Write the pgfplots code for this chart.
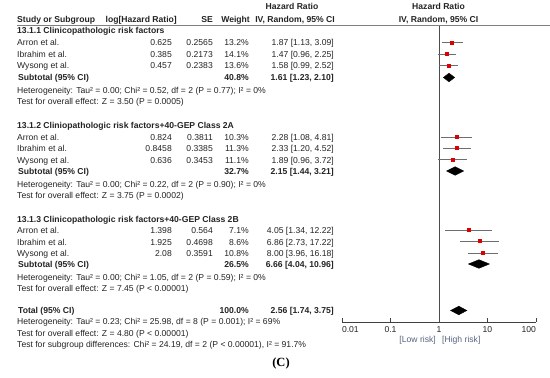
\documentclass[border=0pt]{standalone}
\usepackage{pgfplots}
\pgfplotsset{compat=1.18}
\usepackage{fontspec}
\setmainfont{Liberation Sans}
\newfontfamily\serifC{Liberation Serif}
\definecolor{txt}{RGB}{35,35,35}
\definecolor{cigray}{RGB}{110,110,110}
\definecolor{riskc}{RGB}{85,100,125}
\definecolor{mk}{RGB}{220,0,0}
\begin{document}
\fontsize{8.6}{10}\selectfont
\begin{tikzpicture}
\path[use as bounding box] (0,0) rectangle (550pt,378pt);
\begin{axis}[at={(342pt,56pt)}, anchor=south west, scale only axis,
  width=194pt, height=297pt,
  xmode=log, xmin=0.01, xmax=100, ymin=-322, ymax=-25,
  axis y line=none, axis x line=bottom,
  x axis line style={-, draw=black!75},
  xtick={0.01,0.1,1,10,100},
  xticklabels={\makebox[0pt][l]{0.01},0.1,1,10,\makebox[0pt][r]{100}},
  xminorticks=false, tick align=inside, major tick length=4pt,
  tick style={black!75, line width=0.5pt},
  xticklabel style={text=txt, yshift=-1.5pt},
  clip=false]
% line of no effect
\addplot[black!70, line width=0.6pt] coordinates {(1,-25) (1,-322)};
% confidence intervals
\addplot[cigray, line width=0.8pt] coordinates {(1.13,-42.5) (3.09,-42.5)};
\addplot[cigray, line width=0.8pt] coordinates {(0.96,-54) (2.25,-54)};
\addplot[cigray, line width=0.8pt] coordinates {(0.99,-65.5) (2.52,-65.5)};
\addplot[cigray, line width=0.8pt] coordinates {(1.08,-137) (4.81,-137)};
\addplot[cigray, line width=0.8pt] coordinates {(1.20,-148) (4.52,-148)};
\addplot[cigray, line width=0.8pt] coordinates {(0.96,-159.5) (3.72,-159.5)};
\addplot[cigray, line width=0.8pt] coordinates {(1.34,-230) (12.22,-230)};
\addplot[cigray, line width=0.8pt] coordinates {(2.73,-241) (17.22,-241)};
\addplot[cigray, line width=0.8pt] coordinates {(3.96,-253) (16.18,-253)};
% point estimates
\addplot[only marks, mark=square*, mark size=1.5pt, mk, mark options={draw=mk, fill=mk}] coordinates {
(1.87,-42.5) (1.47,-54) (1.58,-65.5)
(2.28,-137) (2.33,-148) (1.89,-159.5)
(4.05,-230) (6.86,-241) (8.00,-253)};
% pooled diamonds
\addplot[fill=black, draw=black] coordinates {(1.23,-77.5) (1.61,-73.2) (2.10,-77.5) (1.61,-81.8)} -- cycle;
\addplot[fill=black, draw=black] coordinates {(1.44,-171) (2.15,-166.7) (3.21,-171) (2.15,-175.3)} -- cycle;
\addplot[fill=black, draw=black] coordinates {(4.04,-264) (6.66,-259.7) (10.96,-264) (6.66,-268.3)} -- cycle;
\addplot[fill=black, draw=black] coordinates {(1.74,-310.5) (2.56,-306.2) (3.75,-310.5) (2.56,-314.8)} -- cycle;
\end{axis}
\begin{scope}[x=1pt,y=-1pt,shift={(0pt,378pt)},
  tl/.style={anchor=base west, inner sep=0pt, text=txt},
  tr/.style={anchor=base east, inner sep=0pt, text=txt},
  tc/.style={anchor=base, inner sep=0pt, text=txt}]
\draw[black!50, line width=0.7pt] (17,25) -- (550,25);
% headers
\node[tc] at (292,10) {\bfseries Hazard Ratio};
\node[tc] at (438.5,10) {\bfseries Hazard Ratio};
\node[tl] at (17,22.5) {\bfseries Study or Subgroup};
\node[tr] at (177,22.5) {\bfseries log[Hazard Ratio]};
\node[tr] at (213,22.5) {\bfseries SE};
\node[tr] at (250,22.5) {\bfseries Weight};
\node[tr] at (335,22.5) {\bfseries IV, Random, 95\% CI};
\node[tc] at (438.5,22.5) {\bfseries IV, Random, 95\% CI};
% section 1
\node[tl] at (17,34) {\bfseries 13.1.1 Clinicopathologic risk factors};
\node[tl] at (17,46) {Arron et al.};
\node[tr] at (172,46) {0.625}; \node[tr] at (213,46) {0.2565}; \node[tr] at (249,46) {13.2\%}; \node[tr] at (334,46) {1.87 [1.13, 3.09]};
\node[tl] at (17,57.5) {Ibrahim et al.};
\node[tr] at (172,57.5) {0.385}; \node[tr] at (213,57.5) {0.2173}; \node[tr] at (249,57.5) {14.1\%}; \node[tr] at (334,57.5) {1.47 [0.96, 2.25]};
\node[tl] at (17,69) {Wysong et al.};
\node[tr] at (172,69) {0.457}; \node[tr] at (213,69) {0.2383}; \node[tr] at (249,69) {13.6\%}; \node[tr] at (334,69) {1.58 [0.99, 2.52]};
\node[tl] at (18,80.5) {\bfseries Subtotal (95\% CI)};
\node[tr] at (249,80.5) {\bfseries 40.8\%}; \node[tr] at (334,80.5) {\bfseries 1.61 [1.23, 2.10]};
\node[tl] at (17,93.5) {Heterogeneity: Tau² = 0.00; Chi² = 0.52, df = 2 (P = 0.77); I² = 0\%};
\node[tl] at (17,105) {Test for overall effect: Z = 3.50 (P = 0.0005)};
% section 2
\node[tl] at (17,129) {\bfseries 13.1.2 Cliniopathologic risk factors+40-GEP Class 2A};
\node[tl] at (17,141) {Arron et al.};
\node[tr] at (172,141) {0.824}; \node[tr] at (213,141) {0.3811}; \node[tr] at (249,141) {10.3\%}; \node[tr] at (334,141) {2.28 [1.08, 4.81]};
\node[tl] at (17,152) {Ibrahim et al.};
\node[tr] at (172,152) {0.8458}; \node[tr] at (213,152) {0.3385}; \node[tr] at (249,152) {11.3\%}; \node[tr] at (334,152) {2.33 [1.20, 4.52]};
\node[tl] at (17,163.5) {Wysong et al.};
\node[tr] at (172,163.5) {0.636}; \node[tr] at (213,163.5) {0.3453}; \node[tr] at (249,163.5) {11.1\%}; \node[tr] at (334,163.5) {1.89 [0.96, 3.72]};
\node[tl] at (18,174.5) {\bfseries Subtotal (95\% CI)};
\node[tr] at (249,174.5) {\bfseries 32.7\%}; \node[tr] at (334,174.5) {\bfseries 2.15 [1.44, 3.21]};
\node[tl] at (17,187.5) {Heterogeneity: Tau² = 0.00; Chi² = 0.22, df = 2 (P = 0.90); I² = 0\%};
\node[tl] at (17,199) {Test for overall effect: Z = 3.75 (P = 0.0002)};
% section 3
\node[tl] at (17,222.5) {\bfseries 13.1.3 Clinicopathologic risk factors+40-GEP Class 2B};
\node[tl] at (17,234) {Arron et al.};
\node[tr] at (172,234) {1.398}; \node[tr] at (213,234) {0.564}; \node[tr] at (249,234) {7.1\%}; \node[tr] at (334,234) {4.05 [1.34, 12.22]};
\node[tl] at (17,245.5) {Ibrahim et al.};
\node[tr] at (172,245.5) {1.925}; \node[tr] at (213,245.5) {0.4698}; \node[tr] at (249,245.5) {8.6\%}; \node[tr] at (334,245.5) {6.86 [2.73, 17.22]};
\node[tl] at (17,257) {Wysong et al.};
\node[tr] at (172,257) {2.08}; \node[tr] at (213,257) {0.3591}; \node[tr] at (249,257) {10.8\%}; \node[tr] at (334,257) {8.00 [3.96, 16.18]};
\node[tl] at (18,267.5) {\bfseries Subtotal (95\% CI)};
\node[tr] at (249,267.5) {\bfseries 26.5\%}; \node[tr] at (334,267.5) {\bfseries 6.66 [4.04, 10.96]};
\node[tl] at (17,280.5) {Heterogeneity: Tau² = 0.00; Chi² = 1.05, df = 2 (P = 0.59); I² = 0\%};
\node[tl] at (17,292) {Test for overall effect: Z = 7.45 (P < 0.00001)};
% total
\node[tl] at (18,314) {\bfseries Total (95\% CI)};
\node[tr] at (249,314) {\bfseries 100.0\%}; \node[tr] at (334,314) {\bfseries 2.56 [1.74, 3.75]};
\node[tl] at (17,325) {Heterogeneity: Tau² = 0.23; Chi² = 25.98, df = 8 (P = 0.001); I² = 69\%};
\node[tl] at (17,336.5) {Test for overall effect: Z = 4.80 (P < 0.00001)};
\node[tl] at (17,348) {Test for subgroup differences: Chi² = 24.19, df = 2 (P < 0.00001), I² = 91.7\%};
% risk labels
\node[tr, text=riskc] at (436,342.5) {[Low risk]};
\node[tl, text=riskc] at (442,342.5) {[High risk]};
% panel label
\node[tc, text=black] at (281,366.5) {\serifC\bfseries\fontsize{12.5}{15}\selectfont (C)};
\end{scope}
\end{tikzpicture}
\end{document}
